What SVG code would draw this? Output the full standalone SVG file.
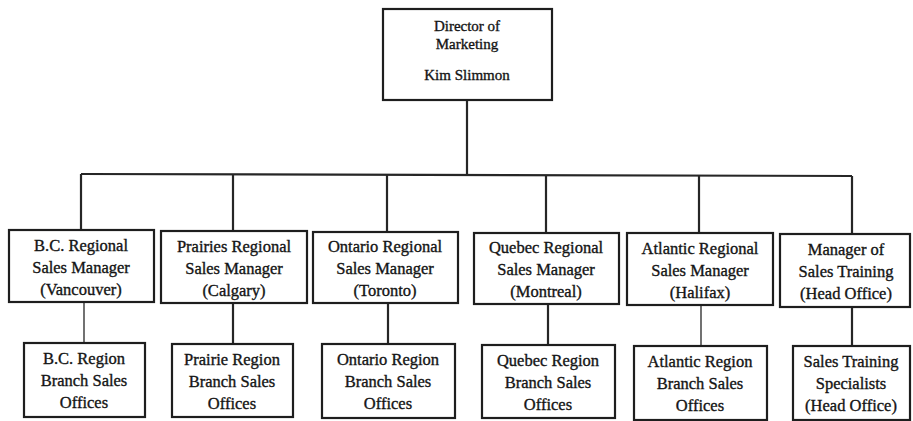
<svg xmlns="http://www.w3.org/2000/svg" width="913" height="421" viewBox="0 0 913 421">
  <style>
    .box { fill: #ffffff; stroke: #1e1e1e; stroke-width: 2.2; }
    .wire { fill: none; stroke: #262626; stroke-width: 2.2; }
    .thin { stroke-width: 1.3; }
    text { font-family: "Liberation Serif", "Times New Roman", serif; font-size: 16.5px; fill: #141414; stroke: #141414; stroke-width: 0.35; text-anchor: middle; }
    .head { font-size: 15px; }
  </style>
  <rect width="913" height="421" fill="#ffffff"/>

  <!-- connectors -->
  <g id="connectors">
    <path class="wire" d="M467 100 V174"/>
    <path class="wire" d="M81 174 L852 176"/>
    <path class="wire" d="M81 174 V230"/>
    <path class="wire" d="M233 174.5 V231"/>
    <path class="wire" d="M387 175 V232"/>
    <path class="wire" d="M546 175 V233"/>
    <path class="wire" d="M699 175.5 V233"/>
    <path class="wire" d="M852 176 V233"/>
    <path class="wire thin" d="M84 302 V342"/>
    <path class="wire" d="M233 303 V343"/>
    <path class="wire" d="M388 303 V343"/>
    <path class="wire" d="M548 304 V345"/>
    <path class="wire thin" d="M701 305 V346"/>
    <path class="wire" d="M852 307 V345"/>
  </g>

  <!-- top -->
  <g id="director">
    <rect class="box" x="383" y="9" width="169" height="91"/>
    <text class="head" x="467" y="31">Director of</text>
    <text class="head" x="467" y="49">Marketing</text>
    <text class="head" x="467" y="80">Kim Slimmon</text>
  </g>

  <!-- regional managers -->
  <g id="bc-manager">
    <rect class="box" x="9" y="230" width="145" height="72"/>
    <text x="81" y="251">B.C. Regional</text>
    <text x="81" y="273">Sales Manager</text>
    <text x="81" y="295">(Vancouver)</text>
  </g>
  <g id="prairies-manager">
    <rect class="box" x="161" y="231" width="146" height="72"/>
    <text x="234" y="252">Prairies Regional</text>
    <text x="234" y="274">Sales Manager</text>
    <text x="234" y="296">(Calgary)</text>
  </g>
  <g id="ontario-manager">
    <rect class="box" x="313" y="232" width="145" height="71"/>
    <text x="385" y="252">Ontario Regional</text>
    <text x="385" y="274">Sales Manager</text>
    <text x="385" y="296">(Toronto)</text>
  </g>
  <g id="quebec-manager">
    <rect class="box" x="474" y="233" width="145" height="71"/>
    <text x="546" y="253">Quebec Regional</text>
    <text x="546" y="275">Sales Manager</text>
    <text x="546" y="297">(Montreal)</text>
  </g>
  <g id="atlantic-manager">
    <rect class="box" x="627" y="233" width="146" height="72"/>
    <text x="700" y="254">Atlantic Regional</text>
    <text x="700" y="276">Sales Manager</text>
    <text x="700" y="298">(Halifax)</text>
  </g>
  <g id="training-manager">
    <rect class="box" x="780" y="234" width="130" height="73"/>
    <text x="846" y="255">Manager of</text>
    <text x="846" y="277">Sales Training</text>
    <text x="846" y="299">(Head Office)</text>
  </g>

  <!-- branch offices -->
  <g id="bc-offices">
    <rect class="box" x="24" y="343" width="121" height="74"/>
    <text x="84" y="364">B.C. Region</text>
    <text x="84" y="386">Branch Sales</text>
    <text x="84" y="408">Offices</text>
  </g>
  <g id="prairie-offices">
    <rect class="box" x="172" y="344" width="121" height="73"/>
    <text x="232" y="365">Prairie Region</text>
    <text x="232" y="387">Branch Sales</text>
    <text x="232" y="409">Offices</text>
  </g>
  <g id="ontario-offices">
    <rect class="box" x="322" y="344" width="133" height="74"/>
    <text x="388" y="365">Ontario Region</text>
    <text x="388" y="387">Branch Sales</text>
    <text x="388" y="409">Offices</text>
  </g>
  <g id="quebec-offices">
    <rect class="box" x="482" y="345" width="133" height="73"/>
    <text x="548" y="366">Quebec Region</text>
    <text x="548" y="388">Branch Sales</text>
    <text x="548" y="410">Offices</text>
  </g>
  <g id="atlantic-offices">
    <rect class="box" x="634" y="346" width="133" height="74"/>
    <text x="700" y="367">Atlantic Region</text>
    <text x="700" y="389">Branch Sales</text>
    <text x="700" y="411">Offices</text>
  </g>
  <g id="training-specialists">
    <rect class="box" x="793" y="346" width="117" height="74"/>
    <text x="851" y="367">Sales Training</text>
    <text x="851" y="389">Specialists</text>
    <text x="851" y="411">(Head Office)</text>
  </g>
</svg>
